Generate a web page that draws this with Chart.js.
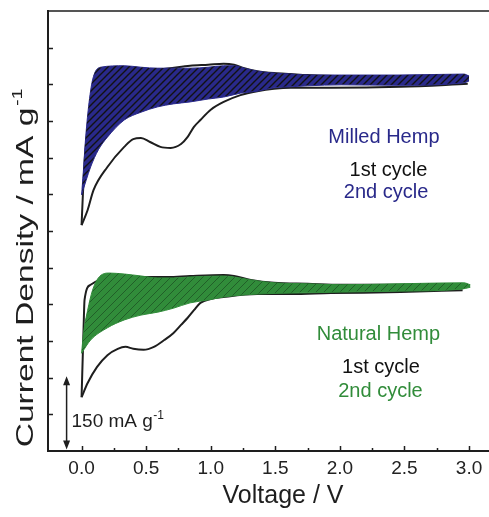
<!DOCTYPE html>
<html>
<head>
<meta charset="utf-8">
<script src="https://cdn.jsdelivr.net/npm/chart.js@4.4.1/dist/chart.umd.min.js"></script>
<style>
  html, body { margin: 0; padding: 0; background: #fff; overflow: hidden; }
  #wrap { width: 520px; height: 517px; }
</style>
</head>
<body>
<div id="wrap"><canvas id="cv" width="520" height="517"></canvas></div>
<script>
// Cyclic voltammograms (1st and 2nd cycle) of milled and natural hemp carbon.
// Current density in mA g-1; the two electrodes are offset vertically.

const xTickValues = [0.0, 0.5, 1.0, 1.5, 2.0, 2.5, 3.0];

// [voltage V, current density mA g-1]
const milled2ndLower = [[0.00,524],[0.07,581],[0.13,616],[0.20,642],[0.33,677],[0.46,693],[0.59,704],[0.71,710],[0.84,714],[0.98,720],[1.10,724],[1.23,732],[1.36,736],[1.49,743],[1.62,745],[1.75,747],[2.01,749],[2.45,748],[2.96,753],[3.00,757]];
const milled2ndUpper = [[0.00,524],[0.013,569],[0.03,636],[0.054,704],[0.085,759],[0.147,785],[0.33,788],[0.46,785],[0.59,783],[0.71,783],[0.84,783],[0.98,785],[1.10,788],[1.18,788],[1.26,783],[1.36,777],[1.49,773],[1.62,771],[1.75,769],[2.01,769],[2.45,769],[2.96,771],[3.00,767]];
const milled1stLower = [[0.00,462],[0.047,493],[0.093,534],[0.20,581],[0.33,622],[0.40,638],[0.46,640],[0.53,632],[0.61,622],[0.69,620],[0.77,628],[0.82,642],[0.87,663],[0.92,677],[1.00,698],[1.10,714],[1.23,728],[1.36,736],[1.49,741],[1.62,743],[1.93,743],[2.47,745],[2.99,751]];
const milled1stUpper = [[0.00,462],[0.01,524],[0.03,616],[0.07,698],[0.15,759],[0.30,779],[0.61,781],[0.84,788],[0.98,790],[1.10,792],[1.18,790],[1.26,783],[1.36,777],[1.49,773],[1.62,771],[1.75,769],[2.01,767],[2.47,767],[2.99,767]];

const natural2ndLower = [[0.00,200],[0.07,227],[0.20,252],[0.33,268],[0.46,278],[0.59,284],[0.71,292],[0.84,303],[0.98,309],[1.10,315],[1.36,321],[1.62,323],[2.01,325],[2.45,327],[2.94,331],[3.01,335]];
const natural2ndUpper = [[0.00,200],[0.015,241],[0.047,288],[0.085,329],[0.13,354],[0.21,364],[0.33,362],[0.46,358],[0.59,354],[0.71,354],[0.84,356],[1.10,358],[1.18,356],[1.31,350],[1.49,344],[1.75,342],[2.01,340],[2.45,342],[2.96,344],[3.01,340]];
const natural1stLower = [[0.00,110],[0.047,139],[0.12,172],[0.20,196],[0.28,209],[0.34,213],[0.40,209],[0.48,207],[0.56,213],[0.64,227],[0.71,241],[0.77,258],[0.82,272],[0.87,288],[0.92,303],[1.00,311],[1.10,315],[1.36,321],[1.62,321],[1.93,323],[2.47,325],[2.95,329]];
const natural1stUpper = [[0.00,110],[0.015,247],[0.023,309],[0.07,340],[0.19,354],[0.38,356],[0.67,356],[0.84,358],[1.10,360],[1.18,358],[1.31,350],[1.49,344],[1.75,342],[2.01,340],[2.47,340],[2.95,340]];

// length of the scale bar, mA g-1
const scaleBarValue = 150;

const FONT = "'Liberation Sans', Arial, Helvetica, sans-serif";
const INK = '#1e1e1e';
const NAVY = '#29298a';
const GREEN = '#318c3a';

const canvas = document.getElementById('cv');
const mainCtx = canvas.getContext('2d');

function hatch(bg, lineColor, lineWidth, size) {
  const c = document.createElement('canvas');
  c.width = size; c.height = size;
  const g = c.getContext('2d');
  g.fillStyle = bg;
  g.fillRect(0, 0, size, size);
  g.strokeStyle = lineColor;
  g.lineWidth = lineWidth;
  g.beginPath();
  g.moveTo(-1, size + 1); g.lineTo(size + 1, -1);
  g.moveTo(-size / 2 - 1, size / 2 + 1); g.lineTo(size / 2 + 1, -size / 2 - 1);
  g.moveTo(size / 2 - 1, size * 1.5 + 1); g.lineTo(size * 1.5 + 1, size / 2 - 1);
  g.stroke();
  return mainCtx.createPattern(c, 'repeat');
}

const toPoints = arr => arr.map(([v, i]) => ({ x: v, y: i }));

function curve(arr, color, width, extra) {
  return Object.assign({
    data: toPoints(arr),
    borderColor: color,
    borderWidth: width,
    pointRadius: 0,
    fill: false,
    cubicInterpolationMode: 'monotone'
  }, extra || {});
}

const datasets = [
  curve(milled2ndLower, NAVY, 1, { fill: { target: 1 }, backgroundColor: hatch(NAVY, '#121212', 1.4, 7) }),
  curve(milled2ndUpper, NAVY, 1),
  curve(natural2ndLower, GREEN, 1, { fill: { target: 3 }, backgroundColor: hatch(GREEN, '#215f28', 1, 8) }),
  curve(natural2ndUpper, GREEN, 1),
  curve(milled1stLower, INK, 2),
  curve(milled1stUpper, INK, 2),
  curve(natural1stLower, INK, 2),
  curve(natural1stUpper, INK, 2)
];

// inward tick marks, frame lines, scale bar and text labels
const decorations = {
  id: 'cvDecorations',
  afterDraw(chart) {
    const { ctx, chartArea: a, scales: { x, y } } = chart;
    ctx.save();

    ctx.strokeStyle = INK;
    ctx.lineWidth = 1.5;
    ctx.beginPath();
    for (let k = 0; k <= 13; k++) {
      const v = k * 0.25;
      const px = Math.round(x.getPixelForValue(v)) + 0.5;
      const len = k % 2 === 0 ? 5 : 3;
      ctx.moveTo(px, a.bottom);
      ctx.lineTo(px, a.bottom - len);
    }
    for (let k = 1; k <= 11; k++) {
      const py = Math.round(y.getPixelForValue(k * 75)) + 0.5;
      ctx.moveTo(a.left, py);
      ctx.lineTo(a.left + 5, py);
    }
    ctx.stroke();

    ctx.lineWidth = 1.6;
    ctx.beginPath();
    ctx.moveTo(a.left, a.top);
    ctx.lineTo(a.right, a.top);
    ctx.lineTo(a.right, a.bottom);
    ctx.stroke();

    // scale bar with arrow heads
    const bx = x.getPixelForValue(-0.116);
    const by0 = y.getPixelForValue(3);
    const by1 = y.getPixelForValue(3 + scaleBarValue);
    ctx.lineWidth = 1.5;
    ctx.beginPath();
    ctx.moveTo(bx, by0 - 7);
    ctx.lineTo(bx, by1 + 7);
    ctx.stroke();
    ctx.fillStyle = INK;
    ctx.beginPath();
    ctx.moveTo(bx, by1); ctx.lineTo(bx - 3.5, by1 + 9); ctx.lineTo(bx + 3.5, by1 + 9); ctx.closePath();
    ctx.moveTo(bx, by0); ctx.lineTo(bx - 3.5, by0 - 9); ctx.lineTo(bx + 3.5, by0 - 9); ctx.closePath();
    ctx.fill();

    ctx.textBaseline = 'alphabetic';
    ctx.textAlign = 'left';
    ctx.font = '19px ' + FONT;
    const sx = x.getPixelForValue(-0.078);
    const sy = y.getPixelForValue(49);
    const main = scaleBarValue + ' mA g';
    ctx.fillText(main, sx, sy);
    const mw = ctx.measureText(main).width;
    ctx.font = '12px ' + FONT;
    ctx.fillText('-1', sx + mw + 0.5, sy - 8);

    // centred labels
    const centred = (text, v, i, color) => {
      ctx.font = '20px ' + FONT;
      ctx.textAlign = 'center';
      ctx.fillStyle = color;
      ctx.fillText(text, x.getPixelForValue(v), y.getPixelForValue(i));
    };
    centred('Milled Hemp', 2.341, 630, NAVY);
    centred('1st cycle', 2.376, 562, '#111');
    centred('2nd cycle', 2.357, 517, NAVY);
    centred('Natural Hemp', 2.298, 227, GREEN);
    centred('1st cycle', 2.318, 160, '#111');
    centred('2nd cycle', 2.314, 110, GREEN);

    // y axis title, drawn rotated
    ctx.fillStyle = INK;
    ctx.translate(33, 268);
    ctx.rotate(-Math.PI / 2);
    ctx.scale(1.4, 1);
    ctx.textAlign = 'left';
    ctx.font = '24px ' + FONT;
    const t = 'Current Density / mA g';
    const tw = ctx.measureText(t).width;
    ctx.font = '14px ' + FONT;
    const supW = ctx.measureText('-1').width;
    const x0 = -(tw + supW + 1) / 2;
    ctx.font = '24px ' + FONT;
    ctx.fillText(t, x0, 0);
    ctx.font = '14px ' + FONT;
    ctx.fillText('-1', x0 + tw + 1, -11);

    ctx.restore();
  }
};

new Chart(canvas, {
  type: 'line',
  data: { datasets },
  options: {
    responsive: false,
    animation: false,
    devicePixelRatio: 1,
    layout: { padding: { top: 11, left: 0, right: 2, bottom: 0 } },
    plugins: { legend: { display: false }, tooltip: { enabled: false } },
    scales: {
      x: {
        type: 'linear',
        min: -0.26,
        max: 3.379,
        grid: { display: false, drawTicks: false },
        border: { display: true, color: INK, width: 2 },
        afterBuildTicks: s => { s.ticks = xTickValues.map(v => ({ value: v })); },
        ticks: {
          autoSkip: false,
          maxRotation: 0,
          padding: 6,
          color: '#222',
          font: { family: FONT, size: 19 },
          callback: v => Number(v).toFixed(1)
        },
        title: {
          display: true,
          text: 'Voltage / V',
          color: INK,
          font: { family: FONT, size: 25 },
          padding: { top: 0, bottom: 6 }
        },
        afterFit: s => { s.height = 66; }
      },
      y: {
        type: 'linear',
        min: 0,
        max: 900,
        grid: { display: false, drawTicks: false },
        border: { display: true, color: INK, width: 2 },
        ticks: { display: false },
        afterFit: s => { s.width = 48; }
      }
    }
  },
  plugins: [decorations]
});
</script>
</body>
</html>
